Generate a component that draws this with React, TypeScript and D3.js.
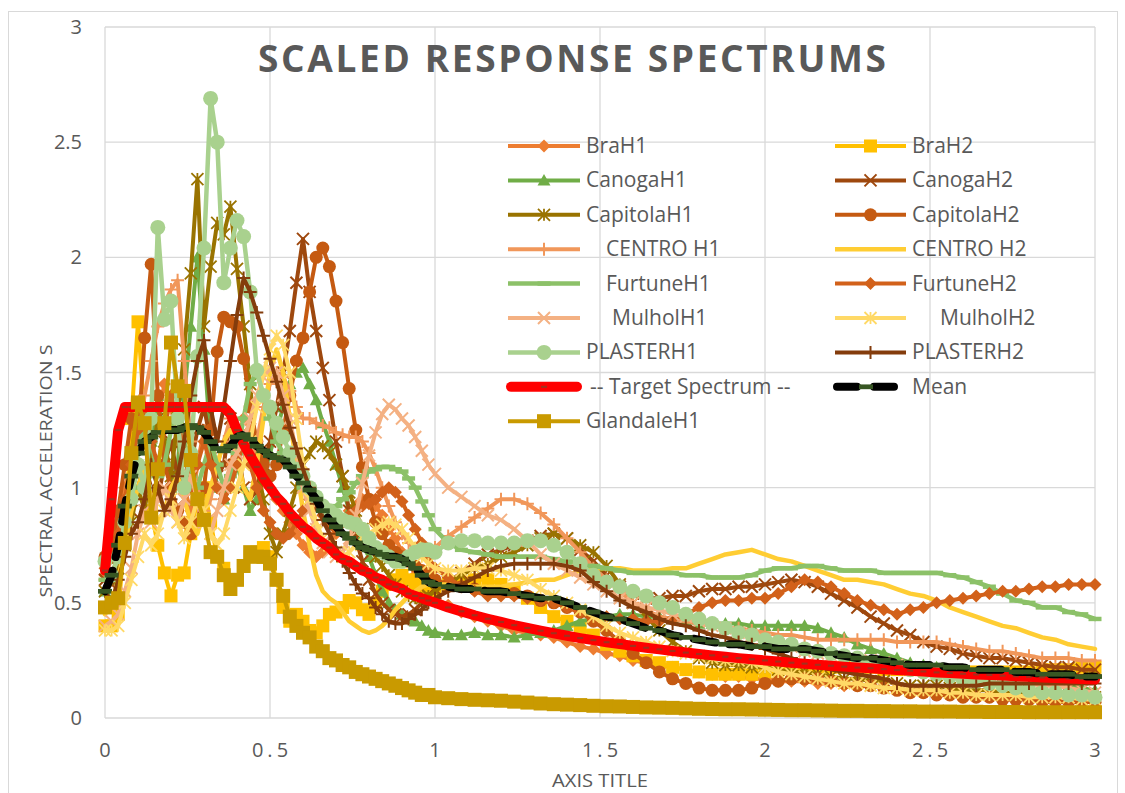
import React from "react";
import * as d3 from "d3";

// ---------- DATA ----------
const periods = [
  0, 0.02, 0.04, 0.06, 0.08, 0.1, 0.12, 0.14, 0.16, 0.18,
  0.2, 0.22, 0.24, 0.26, 0.28, 0.3, 0.32, 0.34, 0.36, 0.38,
  0.4, 0.42, 0.44, 0.46, 0.48, 0.5, 0.52, 0.54, 0.56, 0.58,
  0.6, 0.62, 0.64, 0.66, 0.68, 0.7, 0.72, 0.74, 0.76, 0.78,
  0.8, 0.82, 0.84, 0.86, 0.88, 0.9, 0.92, 0.94, 0.96, 0.98,
  1.0,
  1.04, 1.08, 1.12, 1.16, 1.2, 1.24, 1.28, 1.32, 1.36, 1.4,
  1.44, 1.48, 1.52, 1.56, 1.6, 1.64, 1.68, 1.72, 1.76, 1.8,
  1.84, 1.88, 1.92, 1.96, 2.0, 2.04, 2.08, 2.12, 2.16, 2.2,
  2.24, 2.28, 2.32, 2.36, 2.4, 2.44, 2.48, 2.52, 2.56, 2.6,
  2.64, 2.68, 2.72, 2.76, 2.8, 2.84, 2.88, 2.92, 2.96, 3.0,
];

const braH1 = [
  0.62, 0.70, 0.85, 1.00, 1.10, 1.30, 1.20, 1.10, 1.30, 1.45,
  1.35, 1.20, 1.00, 0.90, 1.10, 1.25, 1.15, 1.00, 0.95, 1.10,
  1.20, 1.30, 1.25, 1.15, 1.10, 1.00, 0.95, 0.90, 0.85, 0.80,
  0.75, 0.72, 0.70, 0.72, 0.75, 0.80, 0.85, 0.90, 0.92, 0.95,
  0.95, 0.92, 0.88, 0.82, 0.78, 0.72, 0.68, 0.62, 0.58, 0.55,
  0.52,
  0.49, 0.46, 0.44, 0.42, 0.40, 0.38, 0.37, 0.36, 0.35, 0.33,
  0.31, 0.30, 0.28, 0.27, 0.25, 0.24, 0.23, 0.22, 0.21, 0.20,
  0.19, 0.18, 0.18, 0.17, 0.17, 0.16, 0.16, 0.16, 0.15, 0.15,
  0.14, 0.14, 0.14, 0.13, 0.13, 0.12, 0.12, 0.12, 0.11, 0.11,
  0.10, 0.10, 0.10, 0.10, 0.09, 0.09, 0.09, 0.09, 0.08, 0.08,
];

const braH2 = [
  0.40, 0.40, 0.45, 0.80, 1.30, 1.72, 1.30, 0.90, 0.75, 0.63,
  0.53, 0.62, 0.63, 0.80, 0.95, 1.00, 0.85, 0.70, 0.65, 0.60,
  0.60, 0.66, 0.70, 0.72, 0.74, 0.70, 0.60, 0.48, 0.42, 0.45,
  0.42, 0.38, 0.37, 0.40, 0.45, 0.46, 0.48, 0.51, 0.50, 0.47,
  0.45, 0.50, 0.55, 0.58, 0.60, 0.62, 0.60, 0.58, 0.55, 0.55,
  0.56,
  0.58, 0.59, 0.60, 0.60, 0.58, 0.56, 0.52, 0.48, 0.44, 0.42,
  0.39, 0.36, 0.32, 0.29, 0.27, 0.25, 0.24, 0.22, 0.21, 0.20,
  0.19, 0.19, 0.19, 0.19, 0.20, 0.21, 0.22, 0.22, 0.22, 0.22,
  0.22, 0.22, 0.22, 0.21, 0.21, 0.21, 0.21, 0.20, 0.20, 0.20,
  0.20, 0.20, 0.20, 0.20, 0.20, 0.21, 0.21, 0.21, 0.22, 0.22,
];

const canogaH1 = [
  0.55, 0.60, 0.70, 0.85, 1.00, 1.10, 1.00, 1.20, 1.40, 1.20,
  1.00, 1.10, 1.40, 1.70, 2.00, 1.60, 1.20, 1.00, 0.95, 1.00,
  1.10, 1.00, 0.90, 0.95, 1.05, 1.15, 1.25, 1.35, 1.45, 1.50,
  1.52, 1.45, 1.38, 1.28, 1.20, 1.10, 1.00, 0.90, 0.82, 0.75,
  0.70, 0.62, 0.55, 0.50, 0.47, 0.45, 0.43, 0.42, 0.40, 0.38,
  0.37,
  0.36, 0.36, 0.37, 0.36, 0.36, 0.35, 0.36, 0.37, 0.38, 0.40,
  0.42, 0.43, 0.44, 0.45, 0.45, 0.44, 0.44, 0.43, 0.42, 0.41,
  0.41, 0.41, 0.41, 0.40, 0.40, 0.40, 0.40, 0.40, 0.39, 0.37,
  0.35, 0.32, 0.30, 0.28, 0.26, 0.24, 0.23, 0.22, 0.21, 0.20,
  0.19, 0.18, 0.18, 0.17, 0.16, 0.15, 0.14, 0.14, 0.13, 0.12,
];

const canogaH2 = [
  0.60, 0.58, 0.70, 0.80, 0.90, 1.00, 1.10, 1.00, 0.95, 1.10,
  1.20, 1.05, 0.95, 1.10, 1.25, 1.35, 1.20, 1.05, 1.10, 1.30,
  1.20, 1.00, 0.95, 1.00, 1.10, 1.20, 1.35, 1.50, 1.68, 1.89,
  2.08, 1.85, 1.68, 1.52, 1.38, 1.20, 1.05, 0.90, 0.78, 0.68,
  0.60, 0.54, 0.50, 0.47, 0.45, 0.44, 0.45, 0.47, 0.50, 0.53,
  0.56,
  0.59, 0.63, 0.67, 0.71, 0.73, 0.75, 0.77, 0.79, 0.80, 0.78,
  0.73, 0.68, 0.62, 0.57, 0.54, 0.52, 0.52, 0.53, 0.53, 0.55,
  0.56, 0.56, 0.57, 0.57, 0.58, 0.59, 0.60, 0.59, 0.57, 0.54,
  0.51, 0.48, 0.44, 0.41, 0.38, 0.36, 0.33, 0.31, 0.30, 0.28,
  0.27, 0.26, 0.26, 0.25, 0.24, 0.23, 0.22, 0.22, 0.21, 0.21,
];

const capitolaH1 = [
  0.55, 0.60, 0.65, 0.75, 0.85, 1.00, 0.90, 1.10, 1.30, 1.20,
  1.05, 1.30, 1.60, 1.93, 2.34, 1.70, 1.96, 2.15, 2.10, 2.22,
  1.95, 1.70, 1.45, 1.10, 0.95, 0.80, 0.72, 0.80, 0.90, 1.00,
  1.10, 1.15, 1.20, 1.18, 1.15, 1.10, 1.05, 0.98, 0.90, 0.82,
  0.75, 0.70, 0.66, 0.62, 0.58, 0.55, 0.53, 0.52, 0.52, 0.53,
  0.55,
  0.59, 0.62, 0.65, 0.67, 0.70, 0.72, 0.75, 0.78, 0.80, 0.78,
  0.75, 0.72, 0.66, 0.58, 0.50, 0.44, 0.38, 0.33, 0.29, 0.26,
  0.24, 0.23, 0.23, 0.22, 0.22, 0.21, 0.20, 0.20, 0.19, 0.18,
  0.17, 0.17, 0.16, 0.16, 0.15, 0.14, 0.14, 0.14, 0.13, 0.12,
  0.12, 0.12, 0.11, 0.11, 0.10, 0.10, 0.10, 0.09, 0.09, 0.09,
];

const capitolaH2 = [
  0.70, 0.75, 0.90, 1.10, 1.30, 1.20, 1.65, 1.97, 1.40, 1.10,
  1.00, 0.90, 0.85, 0.80, 0.85, 1.00, 1.25, 1.59, 1.74, 1.72,
  1.70, 1.56, 1.35, 1.20, 1.10, 1.05, 1.10, 1.25, 1.40, 1.55,
  1.65, 1.85, 2.00, 2.04, 1.96, 1.81, 1.63, 1.43, 1.25, 1.09,
  0.95, 0.85, 0.80, 0.75, 0.72, 0.70, 0.68, 0.66, 0.64, 0.62,
  0.60,
  0.58, 0.57, 0.56, 0.55, 0.55, 0.54, 0.53, 0.51, 0.50, 0.48,
  0.46, 0.42, 0.38, 0.33, 0.28, 0.24, 0.20, 0.17, 0.15, 0.13,
  0.12, 0.12, 0.12, 0.13, 0.15, 0.16, 0.17, 0.17, 0.17, 0.16,
  0.15, 0.14, 0.14, 0.13, 0.12, 0.11, 0.11, 0.10, 0.10, 0.09,
  0.09, 0.09, 0.08, 0.08, 0.08, 0.07, 0.07, 0.07, 0.07, 0.07,
];

const centroH1 = [
  0.60, 0.62, 0.70, 0.85, 1.00, 1.20, 1.40, 1.55, 1.70, 1.80,
  1.86, 1.90, 1.55, 1.20, 1.00, 0.90, 0.95, 1.10, 1.20, 1.30,
  1.25, 1.15, 1.10, 1.20, 1.35, 1.45, 1.50, 1.48, 1.42, 1.35,
  1.30, 1.30, 1.28, 1.27, 1.26, 1.24, 1.23, 1.22, 1.22, 1.20,
  1.15, 1.08, 1.00, 0.92, 0.85, 0.80, 0.76, 0.73, 0.72, 0.72,
  0.74,
  0.79, 0.83, 0.87, 0.91, 0.95, 0.95, 0.93, 0.89, 0.84, 0.78,
  0.72, 0.65, 0.60, 0.55, 0.50, 0.47, 0.44, 0.43, 0.42, 0.41,
  0.40, 0.39, 0.39, 0.38, 0.37, 0.36, 0.36, 0.35, 0.34, 0.34,
  0.34, 0.34, 0.34, 0.34, 0.33, 0.33, 0.33, 0.33, 0.32, 0.31,
  0.30, 0.29, 0.29, 0.28, 0.27, 0.26, 0.26, 0.26, 0.25, 0.25,
];

const centroH2 = [
  0.45, 0.50, 0.60, 0.75, 0.90, 1.00, 1.10, 0.95, 0.85, 0.90,
  1.00, 1.05, 0.95, 0.85, 0.80, 0.90, 1.00, 1.10, 1.20, 1.25,
  1.15, 1.00, 0.95, 1.10, 1.30, 1.50, 1.60, 1.50, 1.30, 1.10,
  0.90, 0.75, 0.62, 0.55, 0.52, 0.50, 0.46, 0.42, 0.40, 0.38,
  0.37, 0.38, 0.40, 0.43, 0.47, 0.50, 0.53, 0.55, 0.57, 0.58,
  0.58,
  0.58, 0.57, 0.57, 0.57, 0.57, 0.58, 0.59, 0.60, 0.60, 0.62,
  0.64, 0.65, 0.65, 0.65, 0.64, 0.64, 0.64, 0.65, 0.65, 0.67,
  0.69, 0.71, 0.72, 0.73, 0.71, 0.69, 0.68, 0.66, 0.64, 0.62,
  0.60, 0.60, 0.59, 0.58, 0.56, 0.54, 0.53, 0.51, 0.48, 0.46,
  0.44, 0.42, 0.40, 0.39, 0.37, 0.35, 0.34, 0.32, 0.31, 0.30,
];

const furtuneH1 = [
  0.60, 0.62, 0.70, 0.85, 1.00, 1.15, 1.30, 1.20, 1.05, 1.10,
  1.25, 1.35, 1.20, 1.05, 1.00, 1.10, 1.20, 1.10, 1.00, 1.05,
  1.15, 1.30, 1.45, 1.50, 1.40, 1.30, 1.20, 1.15, 1.10, 1.05,
  1.00, 0.98, 0.95, 0.92, 0.90, 0.92, 0.95, 0.98, 1.02, 1.05,
  1.07, 1.08, 1.09, 1.09, 1.08, 1.07, 1.04, 1.00, 0.94, 0.88,
  0.82,
  0.76, 0.73, 0.72, 0.71, 0.70, 0.70, 0.70, 0.70, 0.69, 0.68,
  0.66, 0.66, 0.65, 0.64, 0.63, 0.63, 0.63, 0.63, 0.62, 0.62,
  0.61, 0.61, 0.61, 0.62, 0.64, 0.65, 0.65, 0.66, 0.66, 0.65,
  0.64, 0.64, 0.64, 0.63, 0.63, 0.63, 0.63, 0.63, 0.62, 0.61,
  0.59, 0.57, 0.54, 0.51, 0.50, 0.48, 0.48, 0.46, 0.45, 0.43,
];

const furtuneH2 = [
  0.65, 0.70, 0.80, 0.95, 1.10, 1.25, 1.35, 1.20, 1.10, 1.25,
  1.40, 1.30, 1.15, 1.00, 1.10, 1.20, 1.10, 1.00, 0.95, 1.00,
  1.10, 1.20, 1.10, 1.00, 0.90, 0.85, 0.80, 0.78, 0.80, 0.85,
  0.90, 0.95, 0.92, 0.88, 0.84, 0.82, 0.85, 0.88, 0.90, 0.92,
  0.93, 0.95, 0.98, 1.00, 0.98, 0.94, 0.88, 0.82, 0.76, 0.70,
  0.65,
  0.61, 0.57, 0.55, 0.53, 0.53, 0.53, 0.52, 0.51, 0.50, 0.48,
  0.46, 0.45, 0.44, 0.43, 0.43, 0.42, 0.42, 0.43, 0.45, 0.48,
  0.50, 0.51, 0.51, 0.52, 0.52, 0.54, 0.57, 0.60, 0.59, 0.57,
  0.54, 0.51, 0.49, 0.47, 0.45, 0.47, 0.48, 0.50, 0.51, 0.52,
  0.53, 0.54, 0.55, 0.55, 0.56, 0.57, 0.57, 0.58, 0.58, 0.58,
];

const mulholH1 = [
  0.40, 0.42, 0.45, 0.55, 0.65, 0.80, 0.90, 0.85, 0.95, 1.00,
  0.90, 0.85, 0.95, 1.05, 0.95, 0.85, 0.80, 0.90, 1.00, 1.10,
  1.15, 1.20, 1.30, 1.40, 1.48, 1.52, 1.50, 1.40, 1.30, 1.15,
  1.00, 0.90, 0.82, 0.76, 0.72, 0.70, 0.72, 0.78, 0.88, 1.02,
  1.14, 1.24, 1.32, 1.36, 1.34, 1.30, 1.27, 1.22, 1.16, 1.10,
  1.06,
  1.00, 0.96, 0.92, 0.88, 0.86, 0.82, 0.77, 0.71, 0.67, 0.64,
  0.61, 0.58, 0.55, 0.52, 0.50, 0.48, 0.47, 0.45, 0.44, 0.42,
  0.40, 0.39, 0.37, 0.36, 0.34, 0.32, 0.31, 0.29, 0.28, 0.27,
  0.26, 0.25, 0.25, 0.24, 0.23, 0.22, 0.21, 0.21, 0.20, 0.19,
  0.18, 0.18, 0.17, 0.16, 0.15, 0.14, 0.14, 0.13, 0.12, 0.11,
];

const mulholH2 = [
  0.38, 0.38, 0.40, 0.50, 0.60, 0.70, 0.80, 0.75, 0.80, 0.90,
  0.95, 0.85, 0.78, 0.85, 0.95, 0.90, 0.80, 0.75, 0.80, 0.90,
  1.00, 1.10, 1.20, 1.35, 1.50, 1.60, 1.66, 1.62, 1.50, 1.30,
  1.10, 0.95, 0.85, 0.78, 0.75, 0.72, 0.70, 0.72, 0.75, 0.78,
  0.80, 0.82, 0.84, 0.85, 0.84, 0.82, 0.78, 0.74, 0.70, 0.67,
  0.65,
  0.64, 0.64, 0.65, 0.65, 0.64, 0.62, 0.60, 0.56, 0.53, 0.50,
  0.47, 0.44, 0.40, 0.37, 0.35, 0.33, 0.31, 0.29, 0.28, 0.27,
  0.26, 0.25, 0.25, 0.24, 0.22, 0.20, 0.19, 0.18, 0.17, 0.16,
  0.15, 0.15, 0.14, 0.13, 0.13, 0.12, 0.12, 0.12, 0.11, 0.11,
  0.10, 0.10, 0.10, 0.10, 0.09, 0.09, 0.09, 0.09, 0.08, 0.08,
];

const plasterH1 = [
  0.68, 0.62, 0.70, 0.85, 0.95, 1.10, 1.00, 1.30, 2.13, 1.73,
  1.81, 1.30, 1.00, 1.15, 1.57, 2.04, 2.69, 2.50, 1.89, 2.04,
  2.16, 2.09, 1.85, 1.51, 1.40, 1.35, 1.28, 1.22, 1.15, 1.08,
  1.05, 1.00, 0.96, 0.92, 0.90, 0.88, 0.86, 0.85, 0.84, 0.82,
  0.78, 0.74, 0.72, 0.70, 0.68, 0.68, 0.70, 0.72, 0.73, 0.73,
  0.72,
  0.76, 0.77, 0.77, 0.76, 0.76, 0.76, 0.77, 0.77, 0.75, 0.72,
  0.67, 0.62, 0.59, 0.57, 0.55, 0.53, 0.50, 0.48, 0.45, 0.43,
  0.41, 0.39, 0.37, 0.36, 0.34, 0.33, 0.32, 0.30, 0.29, 0.28,
  0.27, 0.26, 0.24, 0.23, 0.22, 0.21, 0.20, 0.19, 0.18, 0.17,
  0.16, 0.15, 0.14, 0.13, 0.12, 0.11, 0.11, 0.10, 0.10, 0.09,
];

const plasterH2 = [
  0.55, 0.50, 0.60, 0.70, 0.80, 0.85, 0.95, 1.10, 1.00, 0.90,
  0.95, 1.05, 1.20, 1.40, 1.55, 1.64, 1.35, 1.20, 1.35, 1.55,
  1.75, 1.91, 1.85, 1.76, 1.66, 1.56, 1.46, 1.36, 1.26, 1.17,
  1.08, 1.00, 0.93, 0.86, 0.80, 0.74, 0.68, 0.63, 0.58, 0.54,
  0.52, 0.48, 0.45, 0.42, 0.41, 0.41, 0.43, 0.45, 0.47, 0.50,
  0.52,
  0.55, 0.58, 0.61, 0.64, 0.66, 0.67, 0.67, 0.67, 0.67, 0.66,
  0.64, 0.59, 0.55, 0.51, 0.48, 0.46, 0.43, 0.41, 0.40, 0.38,
  0.36, 0.35, 0.33, 0.32, 0.30, 0.28, 0.26, 0.24, 0.23, 0.21,
  0.20, 0.19, 0.18, 0.17, 0.15, 0.14, 0.14, 0.14, 0.14, 0.14,
  0.14, 0.15, 0.15, 0.15, 0.15, 0.15, 0.15, 0.15, 0.15, 0.15,
];

const targetSpectrum = [
  0.64, 0.95, 1.25, 1.35, 1.35, 1.35, 1.35, 1.35, 1.35, 1.35,
  1.35, 1.35, 1.35, 1.35, 1.35, 1.35, 1.35, 1.35, 1.35, 1.32,
  1.25, 1.19, 1.14, 1.09, 1.04, 1.00, 0.96, 0.93, 0.89, 0.86,
  0.83, 0.81, 0.78, 0.76, 0.74, 0.71, 0.69, 0.68, 0.66, 0.64,
  0.63, 0.61, 0.60, 0.58, 0.57, 0.56, 0.54, 0.53, 0.52, 0.51,
  0.50,
  0.480, 0.463, 0.446, 0.431, 0.417, 0.403, 0.391, 0.379, 0.368, 0.357,
  0.347, 0.338, 0.329, 0.321, 0.313, 0.305, 0.298, 0.291, 0.284, 0.278,
  0.272, 0.266, 0.260, 0.255, 0.250, 0.245, 0.240, 0.236, 0.231, 0.227,
  0.223, 0.219, 0.216, 0.212, 0.208, 0.205, 0.202, 0.198, 0.195, 0.192,
  0.189, 0.187, 0.184, 0.181, 0.179, 0.176, 0.174, 0.171, 0.169, 0.167,
];

const meanSpectrum = [
  0.55, 0.62, 0.75, 0.92, 1.05, 1.15, 1.20, 1.22, 1.24, 1.25,
  1.25, 1.25, 1.26, 1.27, 1.26, 1.24, 1.20, 1.17, 1.16, 1.18,
  1.22, 1.23, 1.21, 1.18, 1.16, 1.14, 1.13, 1.12, 1.09, 1.05,
  1.02, 0.99, 0.95, 0.90, 0.86, 0.83, 0.80, 0.78, 0.76, 0.74,
  0.73, 0.72, 0.71, 0.70, 0.70, 0.69, 0.67, 0.65, 0.62, 0.59,
  0.58,
  0.57, 0.56, 0.56, 0.55, 0.55, 0.54, 0.53, 0.52, 0.52, 0.50,
  0.48, 0.46, 0.44, 0.43, 0.41, 0.39, 0.38, 0.36, 0.35, 0.34,
  0.33, 0.32, 0.32, 0.31, 0.31, 0.30, 0.30, 0.30, 0.29, 0.28,
  0.27, 0.26, 0.26, 0.25, 0.24, 0.23, 0.23, 0.23, 0.22, 0.22,
  0.21, 0.21, 0.21, 0.20, 0.20, 0.19, 0.19, 0.19, 0.18, 0.18,
];

const glandaleH1 = [
  0.48, 0.50, 0.52, 0.76, 1.15, 1.37, 1.28, 0.87, 1.08, 1.28,
  1.63, 1.44, 1.42, 1.12, 0.95, 0.86, 0.72, 0.70, 0.62, 0.56,
  0.60, 0.66, 0.72, 0.70, 0.70, 0.67, 0.60, 0.53, 0.44, 0.40,
  0.37, 0.35, 0.31, 0.29, 0.26, 0.25, 0.23, 0.22, 0.20, 0.19,
  0.18, 0.17, 0.16, 0.15, 0.14, 0.13, 0.12, 0.11, 0.10, 0.10,
  0.09,
  0.086, 0.082, 0.079, 0.077, 0.075, 0.071, 0.067, 0.063, 0.060, 0.058,
  0.056, 0.053, 0.051, 0.050, 0.048, 0.046, 0.045, 0.044, 0.042, 0.040,
  0.039, 0.038, 0.038, 0.037, 0.036, 0.035, 0.034, 0.034, 0.033, 0.032,
  0.031, 0.031, 0.030, 0.030, 0.029, 0.029, 0.028, 0.028, 0.028, 0.027,
  0.027, 0.026, 0.026, 0.026, 0.025, 0.025, 0.025, 0.025, 0.025, 0.025,
];

const seriesNames = [
  "BraH1", "BraH2", "CanogaH1", "CanogaH2", "CapitolaH1", "CapitolaH2",
  "CENTRO H1", "CENTRO H2", "FurtuneH1", "FurtuneH2", "MulholH1", "MulholH2",
  "PLASTERH1", "PLASTERH2", "-- Target Spectrum --", "Mean", "GlandaleH1",
];
const seriesValues = [
  braH1, braH2, canogaH1, canogaH2, capitolaH1, capitolaH2,
  centroH1, centroH2, furtuneH1, furtuneH2, mulholH1, mulholH2,
  plasterH1, plasterH2, targetSpectrum, meanSpectrum, glandaleH1,
];

const yTicks = [0, 0.5, 1, 1.5, 2, 2.5, 3];
const yTickLabels = ["0", "0.5", "1", "1.5", "2", "2.5", "3"];
const xTicks = [0, 0.5, 1, 1.5, 2, 2.5, 3];
const xTickLabels = ["0", "0.5", "1", "1.5", "2", "2.5", "3"];

const chartTitle = "SCALED RESPONSE SPECTRUMS";
const xAxisTitle = "AXIS TITLE";
const yAxisTitle = "SPECTRAL ACCELERATION S";

// ---------- STYLES ----------
type MarkerKind = "diamond" | "square" | "triangle" | "x" | "star" | "circle" | "plus" | "dash" | "none";
interface SStyle {
  color: string;
  marker: MarkerKind;
  size: number;
  width: number;
  markerColor?: string;
  dash?: string;
  indent?: number;
}
const styleList: SStyle[] = [
  { color: "#ED7D31", marker: "diamond", size: 13, width: 4 },
  { color: "#FFC000", marker: "square", size: 13, width: 4 },
  { color: "#70AD47", marker: "triangle", size: 13, width: 4 },
  { color: "#9E480E", marker: "x", size: 12, width: 4 },
  { color: "#997300", marker: "star", size: 12, width: 4 },
  { color: "#C55A11", marker: "circle", size: 13, width: 4 },
  { color: "#F1975A", marker: "plus", size: 13, width: 4, indent: 20 },
  { color: "#FFCD33", marker: "none", size: 0, width: 4.5 },
  { color: "#8CC168", marker: "dash", size: 13, width: 4.5, indent: 20 },
  { color: "#D2611A", marker: "diamond", size: 13, width: 4 },
  { color: "#F4B183", marker: "x", size: 12, width: 4, indent: 26 },
  { color: "#FFD966", marker: "star", size: 12, width: 4, indent: 28 },
  { color: "#A9D18E", marker: "circle", size: 15, width: 4.5 },
  { color: "#843C0C", marker: "plus", size: 13, width: 4 },
  { color: "#FF0000", marker: "dash", size: 6, width: 10, markerColor: "#A0321E", indent: 4 },
  { color: "#000000", marker: "dash", size: 14, width: 8, markerColor: "#375623", dash: "22 14" },
  { color: "#C99A00", marker: "square", size: 14, width: 4 },
];

const PL = 105, PR = 1095, PT = 27, PB = 718;
const TXT = "#595959";
const GRID = "#D9D9D9";
const FONT = "'Open Sans', 'Noto Sans', sans-serif";

function Marker({ kind, cx, cy, s, color }: { kind: MarkerKind; cx: number; cy: number; s: number; color: string }) {
  const h = s / 2;
  switch (kind) {
    case "circle":
      return <circle cx={cx} cy={cy} r={h} fill={color} />;
    case "square":
      return <rect x={cx - h} y={cy - h} width={s} height={s} fill={color} />;
    case "diamond":
      return <path d={`M${cx},${cy - h}L${cx + h},${cy}L${cx},${cy + h}L${cx - h},${cy}Z`} fill={color} />;
    case "triangle":
      return <path d={`M${cx},${cy - h}L${cx + h},${cy + h * 0.8}L${cx - h},${cy + h * 0.8}Z`} fill={color} />;
    case "x":
      return (
        <path d={`M${cx - h},${cy - h}L${cx + h},${cy + h}M${cx - h},${cy + h}L${cx + h},${cy - h}`} stroke={color} strokeWidth={2} />
      );
    case "star":
      return (
        <path
          d={`M${cx - h},${cy - h}L${cx + h},${cy + h}M${cx - h},${cy + h}L${cx + h},${cy - h}M${cx},${cy - h}L${cx},${cy + h}`}
          stroke={color}
          strokeWidth={1.8}
        />
      );
    case "plus":
      return <path d={`M${cx - h},${cy}L${cx + h},${cy}M${cx},${cy - h}L${cx},${cy + h}`} stroke={color} strokeWidth={2} />;
    case "dash":
      return <rect x={cx - h} y={cy - s * 0.17} width={s} height={Math.max(2, s * 0.34)} fill={color} />;
    default:
      return null;
  }
}

export default function App() {
  const x = d3.scaleLinear().domain([0, 3]).range([PL, PR]);
  const y = d3.scaleLinear().domain([0, 3]).range([PB, PT]);
  const line = d3
    .line<[number, number]>()
    .x((d) => x(d[0]))
    .y((d) => y(d[1]));

  const series = seriesNames.map((name, i) => {
    const vals = seriesValues[i];
    const n = Math.min(vals.length, periods.length);
    const pts: [number, number][] = [];
    for (let k = 0; k < n; k++) pts.push([periods[k], vals[k]]);
    return { name, pts, st: styleList[i] };
  });

  const rowY0 = 146;
  const rowStep = 34.4;
  const legendCols = [
    { x1: 508, x2: 580, tx: 586 },
    { x1: 835, x2: 906, tx: 912 },
  ];

  return (
    <svg
      width={1125}
      height={793}
      style={{ position: "absolute", left: 0, top: 0, fontFamily: FONT }}
    >
      <rect x={8.5} y={11.5} width={1109} height={800} fill="#FFFFFF" stroke={GRID} strokeWidth={1} />

      {/* gridlines */}
      {yTicks.map((t) => (
        <line key={"gy" + t} x1={PL} x2={PR} y1={y(t)} y2={y(t)} stroke={GRID} strokeWidth={1.3} />
      ))}
      {xTicks.map((t) => (
        <line key={"gx" + t} x1={x(t)} x2={x(t)} y1={PT} y2={PB} stroke={GRID} strokeWidth={1.3} />
      ))}

      {/* tick labels */}
      {yTicks.map((t, i) => (
        <text key={"ty" + t} x={82} y={y(t) + 7} textAnchor="end" fontSize={20} fill={TXT}>
          {yTickLabels[i]}
        </text>
      ))}
      {xTicks.map((t, i) => (
        <text key={"tx" + t} x={x(t) + 2} y={757} textAnchor="middle" fontSize={20} fill={TXT} letterSpacing={4}>
          {xTickLabels[i]}
        </text>
      ))}

      {/* series */}
      {series.map((s) => (
        <g key={s.name}>
          <path
            d={line(s.pts) || ""}
            fill="none"
            stroke={s.st.color}
            strokeWidth={s.st.width}
            strokeLinejoin="round"
            strokeLinecap="round"
            strokeDasharray={s.st.dash}
          />
          {s.st.marker !== "none" &&
            s.pts.map((p, k) => (
              <Marker
                key={k}
                kind={s.st.marker}
                cx={x(p[0])}
                cy={y(p[1])}
                s={s.st.size}
                color={s.st.markerColor || s.st.color}
              />
            ))}
        </g>
      ))}

      {/* title */}
      <text
        x={572}
        y={72}
        textAnchor="middle"
        fontSize={37}
        fontWeight="bold"
        fill={TXT}
        textLength={628}
        lengthAdjust="spacing"
      >
        {chartTitle}
      </text>

      {/* legend */}
      {series.map((s, i) => {
        const col = legendCols[i % 2];
        const cy = rowY0 + Math.floor(i / 2) * rowStep;
        const mid = (col.x1 + col.x2) / 2;
        const isTarget = s.name.indexOf("Target") >= 0;
        const isMean = s.name === "Mean";
        return (
          <g key={"lg" + s.name}>
            {isMean ? (
              <line x1={837} x2={894} y1={cy} y2={cy} stroke="#000" strokeWidth={8} strokeLinecap="round" strokeDasharray="20 17" />
            ) : (
              <line
                x1={isTarget ? 511 : col.x1}
                x2={isTarget ? 577 : col.x2}
                y1={cy}
                y2={cy}
                stroke={s.st.color}
                strokeWidth={isTarget ? 10 : s.st.width}
                strokeLinecap={isTarget ? "round" : "butt"}
              />
            )}
            {s.st.marker !== "none" && (
              <Marker
                kind={s.st.marker}
                cx={isMean ? 866 : mid}
                cy={cy}
                s={s.st.size}
                color={s.st.markerColor || s.st.color}
              />
            )}
            <text x={col.tx + (s.st.indent || 0)} y={cy + 7} fontSize={21} fill={TXT}>
              {s.name}
            </text>
          </g>
        );
      })}

      {/* axis titles */}
      <text
        transform="translate(52,471) rotate(-90)"
        textAnchor="middle"
        fontSize={17}
        fill={TXT}
        textLength={253}
        lengthAdjust="spacingAndGlyphs"
      >
        {yAxisTitle}
      </text>
      <text x={600} y={787} textAnchor="middle" fontSize={19} fill={TXT} textLength={96} lengthAdjust="spacingAndGlyphs">
        {xAxisTitle}
      </text>
    </svg>
  );
}
